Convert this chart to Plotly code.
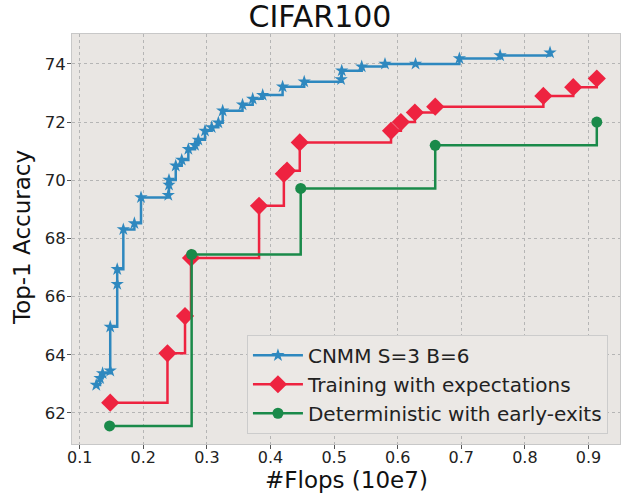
import plotly.graph_objects as go

# CNMM S=3 B=6
cnmm_x = [0.126, 0.132, 0.136, 0.148, 0.148, 0.159, 0.159, 0.1686, 0.186, 0.1964,
          0.2393, 0.2404, 0.2404, 0.251, 0.2604, 0.2708, 0.2813, 0.2865, 0.297, 0.3075,
          0.318, 0.3248, 0.356, 0.372, 0.3877, 0.419, 0.453, 0.511, 0.512, 0.5434,
          0.58, 0.628, 0.697, 0.761, 0.8395]
cnmm_y = [62.96, 63.19, 63.36, 63.45, 64.96, 66.43, 66.94, 68.31, 68.52, 69.41,
          69.49, 69.84, 70.01, 70.5, 70.7, 71.07, 71.21, 71.39, 71.70, 71.82,
          71.98, 72.39, 72.6, 72.8, 72.93, 73.22, 73.39, 73.47, 73.77, 73.91,
          74.0, 74.0, 74.19, 74.29, 74.39]

# Training with expectations
exp_x = [0.148, 0.238, 0.2656, 0.275, 0.382, 0.421, 0.426, 0.446, 0.5895, 0.605,
         0.627, 0.659, 0.829, 0.876, 0.913]
exp_y = [62.35, 64.05, 65.33, 67.33, 69.12, 70.22, 70.33, 71.3, 71.7, 72.0,
         72.33, 72.53, 72.9, 73.2, 73.5]

# Deterministic with early-exits
det_x = [0.147, 0.276, 0.4475, 0.659, 0.913]
det_y = [61.55, 67.45, 69.72, 71.2, 72.0]

names = ["CNMM S=3 B=6", "Training with expectations", "Deterministic with early-exits"]
colors = ["#2e88bf", "#ee2340", "#1a8a4a"]

x_ticks = [0.1, 0.2, 0.3, 0.4, 0.5, 0.6, 0.7, 0.8, 0.9]
y_ticks = [62, 64, 66, 68, 70, 72, 74]

fig = go.Figure()
fig.add_trace(go.Scatter(x=cnmm_x, y=cnmm_y, mode="lines+markers", name=names[0],
                         line=dict(color=colors[0], width=2.5, shape="hv"),
                         marker=dict(symbol="star", size=10, color=colors[0])))
fig.add_trace(go.Scatter(x=exp_x, y=exp_y, mode="lines+markers", name=names[1],
                         line=dict(color=colors[1], width=2.5, shape="hv"),
                         marker=dict(symbol="diamond", size=14, color=colors[1])))
fig.add_trace(go.Scatter(x=det_x, y=det_y, mode="lines+markers", name=names[2],
                         line=dict(color=colors[2], width=2.5, shape="hv"),
                         marker=dict(symbol="circle", size=11, color=colors[2])))

font_family = "DejaVu Sans"
W, H = 624, 494
ML, MR, MT, MB = 72, 4, 34, 50
fig.update_layout(
    width=W, height=H,
    margin=dict(l=ML, r=MR, t=MT, b=MB, autoexpand=False),
    paper_bgcolor="white",
    plot_bgcolor="#e9e6e3",
    font=dict(family=font_family, color="#222222"),
    title=dict(text="CIFAR100", x=320 / W, xanchor="center", y=1 - 16 / H, yanchor="middle",
               font=dict(size=30, family=font_family, color="#111111")),
    legend=dict(x=0.978, xanchor="right", y=0.025, yanchor="bottom",
                bgcolor="#ebe8e5", bordercolor="#cccccc", borderwidth=1,
                font=dict(size=20, family=font_family, color="#222222"),
                itemwidth=50),
    showlegend=True,
)
fig.update_xaxes(range=[0.0879, 0.9495], tickvals=x_ticks,
                 ticktext=[f"{v:.1f}" for v in x_ticks], automargin=False,
                 showgrid=True, gridcolor="#b5b5b5", griddash="dot", gridwidth=1,
                 zeroline=False, ticks="outside", ticklen=4, tickcolor="#555555",
                 ticklabelstandoff=-5,
                 tickfont=dict(size=16, family=font_family, color="#222222"),
                 showline=True, linecolor="#c8c8c8", mirror=True)
fig.update_yaxes(range=[60.93, 75.03], tickvals=y_ticks, automargin=False,
                 showgrid=True, gridcolor="#b5b5b5", griddash="dot", gridwidth=1,
                 zeroline=False, ticks="outside", ticklen=4, tickcolor="#555555",
                 ticklabelstandoff=-2,
                 tickfont=dict(size=16.5, family=font_family, color="#222222"),
                 showline=True, linecolor="#c8c8c8", mirror=True)

# axis titles placed as text annotations
fig.add_annotation(text="#Flops (10e7)", xref="paper", yref="paper",
                   x=0.5, y=-(480 - (H - MB)) / (H - MT - MB), xanchor="center", yanchor="middle",
                   showarrow=False, font=dict(size=23, family=font_family, color="#111111"))
fig.add_annotation(text="Top-1 Accuracy", xref="paper", yref="paper",
                   x=-(ML - 22) / (W - ML - MR), y=(H - MB - 238) / (H - MT - MB),
                   xanchor="center", yanchor="middle", textangle=-90,
                   showarrow=False, font=dict(size=23, family=font_family, color="#111111"))

# remove the default page margin so the figure sits at the window's corner
fig.write_html("out.html", config={"displayModeBar": False},
               post_script="document.body.style.margin='0';")
